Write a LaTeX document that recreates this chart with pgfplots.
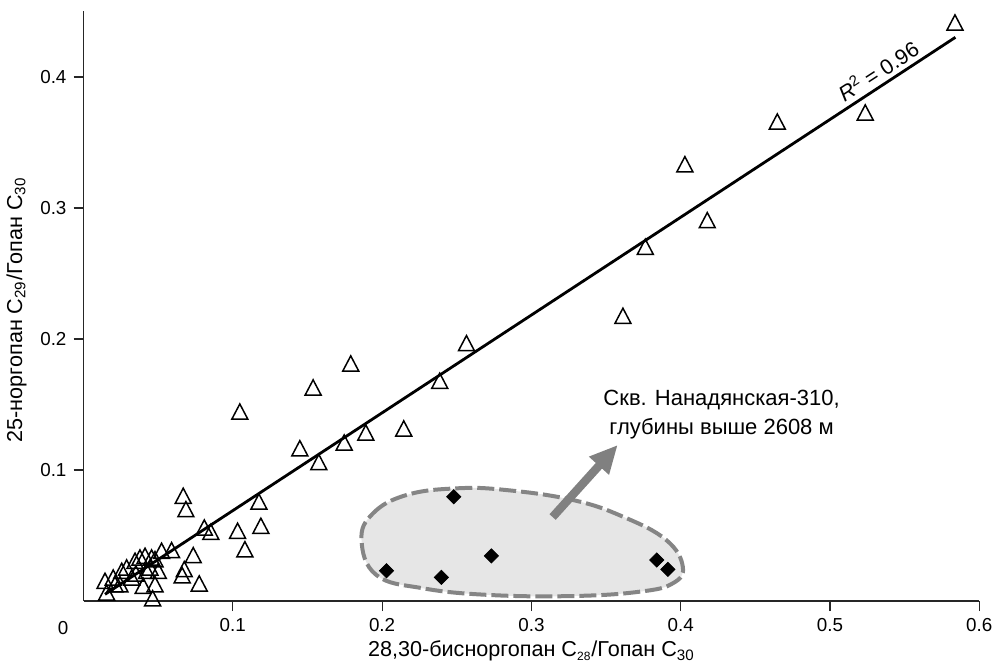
\documentclass[border=0pt]{standalone}
\usepackage{fontspec}
\setmainfont{Liberation Sans}
\usepackage{pgfplots}
\pgfplotsset{compat=1.18}
\usetikzlibrary{arrows.meta}
\definecolor{ellfill}{HTML}{E6E6E6}
\definecolor{elldraw}{HTML}{858585}
\definecolor{arrgray}{HTML}{808080}
\begin{document}
\begin{tikzpicture}
\begin{axis}[
  name=ax,
  scale only axis,
  width=447.9pt, height=294.75pt,
  xmin=0, xmax=0.6, ymin=0, ymax=0.45,
  enlargelimits=false,
  axis lines=left,
  axis line style={-, black!85, line width=0.7pt},
  clip=false,
  xtick={0.1,0.2,0.3,0.4,0.5,0.6},
  ytick={0.1,0.2,0.3,0.4},
  tick align=outside,
  major tick length=5pt,
  tick style={black!85, line width=0.6pt},
  /pgf/number format/assume math mode=true,
  ticklabel style={font=\fontsize{9.4}{11}\selectfont},
  label style={font=\fontsize{10.8}{12}\selectfont},
  xlabel={28,30-бисноргопан C\textsubscript{\fontsize{6}{6}\selectfont 28}/Гопан C\textsubscript{30}},
  ylabel={25-норгопан C\textsubscript{29}/Гопан C\textsubscript{30}},
  ylabel style={at={(ticklabel cs:0.494)}},
  xlabel style={yshift=2pt},
]
% ellipse annotation
\draw[elldraw, fill=ellfill, line width=2pt, dash pattern=on 8.5pt off 2.5pt]
  plot[smooth cycle, tension=0.7] coordinates {
  (axis cs:0.1862,0.0466) (axis cs:0.1939,0.0669) (axis cs:0.2163,0.0809)
  (axis cs:0.2498,0.0860) (axis cs:0.2832,0.0847) (axis cs:0.3278,0.0771)
  (axis cs:0.3613,0.0644) (axis cs:0.3903,0.0466) (axis cs:0.4014,0.0262)
  (axis cs:0.3947,0.0135) (axis cs:0.3725,0.0071) (axis cs:0.3278,0.0038)
  (axis cs:0.2721,0.0046) (axis cs:0.2274,0.0097) (axis cs:0.1962,0.0198)};
% regression line
\addplot[black, line width=1.4pt] coordinates {(0.0144,0.0051) (0.5840,0.4303)};
% triangles
\addplot[only marks, mark=triangle, mark size=4.6pt, mark options={black, line width=0.75pt, yscale=1.1}] coordinates {
(0.5837,0.4397) (0.5236,0.3710) (0.4647,0.3641) (0.4028,0.3315) (0.4178,0.2888)
(0.3763,0.2685) (0.3613,0.2158) (0.2565,0.1949) (0.2386,0.1662) (0.1790,0.1794)
(0.1538,0.1611) (0.1891,0.1267) (0.2145,0.1298) (0.1746,0.1191) (0.1449,0.1147)
(0.1576,0.1042) (0.1047,0.1427)
(0.0668,0.0784) (0.0686,0.0682) (0.1175,0.0740) (0.1188,0.0555) (0.0809,0.0542)
(0.0853,0.0509) (0.1032,0.0517) (0.1081,0.0376) (0.0735,0.0331) (0.0675,0.0224)
(0.0661,0.0178) (0.0775,0.0115) (0.0590,0.0369) (0.0523,0.0364) (0.0463,0.0002)
(0.0155,0.0046) (0.0144,0.0135) (0.0199,0.0160) (0.0256,0.0211) (0.0289,0.0237)
(0.0211,0.0109) (0.0323,0.0160) (0.0378,0.0313) (0.0412,0.0326) (0.0456,0.0313)
(0.0423,0.0211) (0.0501,0.0211) (0.0400,0.0097) (0.0479,0.0109) (0.0345,0.0288)
(0.0445,0.0237) (0.0479,0.0300) (0.0244,0.0109) (0.0351,0.0191)
};
% diamonds
\addplot[only marks, mark=square*, mark size=2.5pt, mark options={black, rotate=45}] coordinates {
(0.2480,0.0796) (0.2029,0.0231) (0.2397,0.0181) (0.2732,0.0344) (0.3840,0.0313) (0.3914,0.0242)
};
% arrow
\draw[arrgray, line width=4.2pt, -{Triangle[width=12.5pt,length=14pt]}]
  (axis cs:0.3142,0.0641) -- (axis cs:0.3578,0.1191);
% annotation text
\node[align=center, font=\fontsize{11}{14.5}\selectfont] at (axis cs:0.4274,0.142)
  {Скв. Нанадянская-310,\\глубины выше 2608 м};
\node[rotate=33, font=\fontsize{10.7}{12}\selectfont] at (axis cs:0.532,0.405)
  {\itshape R\textsuperscript{\upshape 2}\upshape{} = 0.96};
% corner zero label
\node[font=\fontsize{9.4}{11}\selectfont] at ([xshift=-10.25pt,yshift=-13.5pt]rel axis cs:0,0) {0};
\end{axis}
\pgfresetboundingbox
\path[use as bounding box] ([xshift=-41.75pt,yshift=-32pt]ax.south west) rectangle ([xshift=8.85pt,yshift=5.75pt]ax.north east);
\end{tikzpicture}
\end{document}
